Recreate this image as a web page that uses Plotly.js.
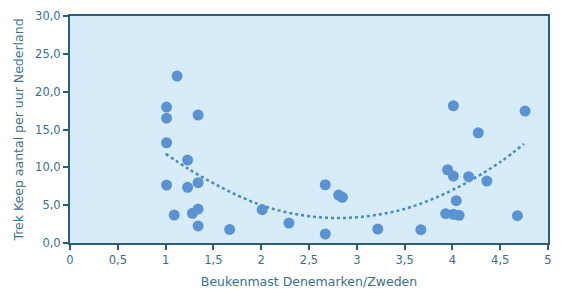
<!DOCTYPE html>
<html><head><meta charset="utf-8">
<script src="https://cdn.plot.ly/plotly-3.0.1.min.js"></script>
<style>html,body{margin:0;padding:0;background:#fff}</style>
</head><body><div id="chart" style="width:563px;height:289px"></div>
<script>
const mastX = [1.12,1.01,1.01,1.34,1.01,1.23,1.01,1.23,1.34,1.09,1.28,1.34,1.34,1.67,2.01,2.29,2.67,2.67,2.81,2.85,3.22,3.67,3.93,3.95,4.01,4.01,4.01,4.04,4.07,4.17,4.27,4.36,4.68,4.76];
const keepY = [22.06,17.97,16.5,16.9,13.25,10.96,7.66,7.36,7.97,3.70,3.92,4.49,2.25,1.80,4.40,2.64,7.70,1.19,6.34,6.03,1.85,1.76,3.87,9.68,18.14,8.85,3.79,5.59,3.66,8.76,14.57,8.19,3.61,17.44];
const trendX = [1,1.25,1.5,1.75,2,2.25,2.5,2.75,3,3.25,3.5,3.75,4,4.25,4.5,4.75];
const trendY = [11.8,9.7,7.9,6.3,5.0,4.1,3.55,3.3,3.4,3.8,4.5,5.6,7.0,8.7,10.7,13.1];
const xTickVals = [0,0.5,1,1.5,2,2.5,3,3.5,4,4.5,5];
const xTickText = ['0','0,5','1','1,5','2','2,5','3','3,5','4','4,5','5'];
const yTickVals = [0,5,10,15,20,25,30];
const yTickText = ['0,0','5,0','10,0','15,0','20,0','25,0','30,0'];
const axisCol = '#2b5d78', textCol = '#3a6f8c';
const data = [
 {x: trendX, y: trendY, type:'scatter', mode:'lines', line:{color:'#4a86c8', width:2.5, dash:'dot', shape:'spline'}, hoverinfo:'skip'},
 {x: mastX, y: keepY, type:'scatter', mode:'markers', marker:{size:11, color:'#5b93d2', line:{width:0}}}
];
const layout = {
 width:563, height:289, showlegend:false,
 margin:{l:70, r:15, t:16, b:46},
 paper_bgcolor:'#ffffff', plot_bgcolor:'#d6ecf9',
 font:{family:'DejaVu Sans, sans-serif', size:11, color:textCol},
 xaxis:{range:[0,5], tickvals:xTickVals, ticktext:xTickText, showgrid:false, zeroline:false,
   showline:true, linecolor:axisCol, linewidth:2, mirror:true, ticks:'outside', ticklen:5, tickwidth:2, tickcolor:axisCol,
   tickfont:{size:11.5, color:textCol},
   title:{text:'Beukenmast Denemarken/Zweden', font:{size:12.5, color:textCol}, standoff:11}},
 yaxis:{range:[0,30], tickvals:yTickVals, ticktext:yTickText, showgrid:false, zeroline:false,
   showline:true, linecolor:axisCol, linewidth:2, mirror:true, ticks:'outside', ticklen:5, tickwidth:2, tickcolor:axisCol,
   tickfont:{size:11.5, color:textCol},
   title:{text:'Trek Keep aantal per uur Nederland', font:{size:12.5, color:textCol}, standoff:9}}
};
Plotly.newPlot('chart', data, layout, {displayModeBar:false, staticPlot:true});
</script></body></html>
